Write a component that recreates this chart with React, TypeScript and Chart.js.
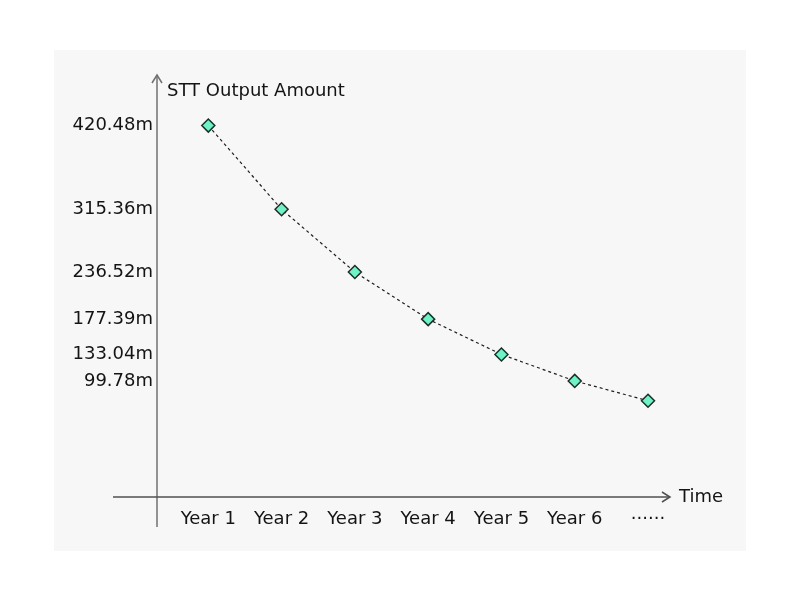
import React, { useEffect, useRef } from "react";
import { Chart, registerables } from "chart.js";

Chart.register(...registerables);

const categories = ["Year 1", "Year 2", "Year 3", "Year 4", "Year 5", "Year 6", "······"];
const outputValues = [420.48, 315.36, 236.52, 177.39, 133.04, 99.78, 74.84];
const yTickValues = [420.48, 315.36, 236.52, 177.39, 133.04, 99.78];
const yAxisTitle = "STT Output Amount";
const xAxisTitle = "Time";

const FONT = "'DejaVu Sans', sans-serif";
const FONT_SIZE = 18;
const TEXT = "#141414";

const decorPlugin = {
  id: "decor",
  beforeDraw(chart: any) {
    const ctx = chart.ctx;
    ctx.save();
    ctx.fillStyle = "#ffffff";
    ctx.fillRect(0, 0, chart.width, chart.height);
    ctx.fillStyle = "#f7f7f7";
    ctx.fillRect(54, 50, 692, 501);
    ctx.restore();
  },
  afterDraw(chart: any) {
    const ctx = chart.ctx;
    const area = chart.chartArea;
    ctx.save();
    // y axis
    ctx.strokeStyle = "#707070";
    ctx.lineWidth = 1.5;
    ctx.beginPath();
    ctx.moveTo(area.left, area.bottom + 30);
    ctx.lineTo(area.left, area.top);
    ctx.stroke();
    ctx.beginPath();
    ctx.moveTo(area.left - 5, area.top + 8);
    ctx.lineTo(area.left, area.top);
    ctx.lineTo(area.left + 5, area.top + 8);
    ctx.stroke();
    // x axis
    ctx.strokeStyle = "#505050";
    ctx.beginPath();
    ctx.moveTo(area.left - 44, area.bottom);
    ctx.lineTo(area.right, area.bottom);
    ctx.stroke();
    ctx.beginPath();
    ctx.moveTo(area.right - 8, area.bottom - 5);
    ctx.lineTo(area.right, area.bottom);
    ctx.lineTo(area.right - 8, area.bottom + 5);
    ctx.stroke();
    // titles
    ctx.fillStyle = TEXT;
    ctx.font = `${FONT_SIZE}px ${FONT}`;
    ctx.textBaseline = "middle";
    ctx.textAlign = "left";
    ctx.fillText(yAxisTitle, area.left + 10, area.top + 16);
    ctx.fillText(xAxisTitle, area.right + 9, area.bottom);
    ctx.restore();
  },
};

export default function App() {
  const canvasRef = useRef<HTMLCanvasElement | null>(null);

  useEffect(() => {
    if (!canvasRef.current) return;
    const chart = new Chart(canvasRef.current, {
      type: "line",
      data: {
        datasets: [
          {
            data: outputValues.map((v, i) => ({ x: i, y: v })),
            borderColor: "#1e1e1e",
            borderWidth: 1.2,
            borderDash: [3, 3],
            tension: 0,
            pointStyle: "rectRot",
            pointRadius: 6.5,
            pointBackgroundColor: "#6ef2c6",
            pointBorderColor: "#1d2e27",
            pointBorderWidth: 1.5,
          },
        ],
      },
      options: {
        animation: false,
        responsive: false,
        maintainAspectRatio: false,
        layout: { padding: { top: 75, right: 131, left: 0, bottom: 0 } },
        plugins: { legend: { display: false }, tooltip: { enabled: false } },
        scales: {
          x: {
            type: "linear",
            min: -0.7,
            max: 6.3,
            grid: { display: false, drawTicks: false },
            border: { display: false },
            afterBuildTicks: (scale: any) => {
              scale.ticks = categories.map((_, i) => ({ value: i }));
            },
            afterFit: (scale: any) => {
              scale.height = 601 - 497;
            },
            ticks: {
              padding: 12,
              maxRotation: 0,
              autoSkip: false,
              color: TEXT,
              font: { family: FONT, size: FONT_SIZE },
              callback: (v: any) => categories[Number(v)] ?? "",
            },
          },
          y: {
            type: "linear",
            min: -46,
            max: 484,
            grid: { display: false, drawTicks: false },
            border: { display: false },
            afterBuildTicks: (scale: any) => {
              scale.ticks = yTickValues.map((v) => ({ value: v }));
            },
            afterFit: (scale: any) => {
              scale.width = 157;
            },
            ticks: {
              padding: 4,
              autoSkip: false,
              color: TEXT,
              font: { family: FONT, size: FONT_SIZE },
              callback: (v: any) => `${Number(v).toFixed(2)}m`,
            },
          },
        },
      },
      plugins: [decorPlugin],
    });
    return () => chart.destroy();
  }, []);

  return (
    <div style={{ position: "fixed", left: 0, top: 0, width: 801, height: 601, background: "#fff" }}>
      <canvas ref={canvasRef} width={801} height={601} style={{ width: 801, height: 601, display: "block" }} />
    </div>
  );
}
